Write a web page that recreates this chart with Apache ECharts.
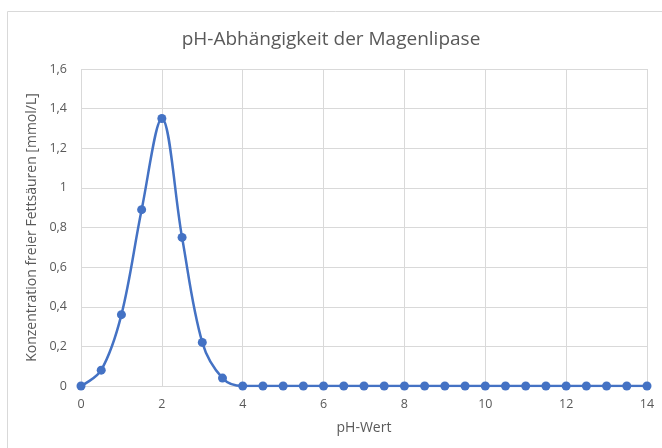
<!DOCTYPE html>
<html>
<head>
<meta charset="utf-8">
<script src="https://cdn.jsdelivr.net/npm/echarts@6/dist/echarts.min.js"></script>
<style>
  html, body { margin: 0; padding: 0; background: #fff; }
  #chart { width: 662px; height: 448px; }
</style>
</head>
<body>
<div id="chart"></div>
<script>
// pH-Werte (x) und gemessene Konzentration (y)
const phValues = [0, 0.5, 1, 1.5, 2, 2.5, 3, 3.5, 4, 4.5, 5, 5.5, 6, 6.5, 7, 7.5, 8, 8.5, 9, 9.5, 10, 10.5, 11, 11.5, 12, 12.5, 13, 13.5, 14];
const concentrations = [0, 0.08, 0.36, 0.89, 1.35, 0.75, 0.22, 0.04, 0, 0, 0, 0, 0, 0, 0, 0, 0, 0, 0, 0, 0, 0, 0, 0, 0, 0, 0, 0, 0];

const textColor = "#595959";
const gridColor = "#d9d9d9";
const font = "Open Sans";

const chart = echarts.init(document.getElementById("chart"));

chart.setOption({
  animation: false,
  title: {
    text: "pH-Abhängigkeit der Magenlipase",
    left: "center",
    top: 25,
    textStyle: { color: textColor, fontSize: 19, fontWeight: "normal", fontFamily: font },
  },
  graphic: [
    {
      type: "rect",
      shape: { x: 7.5, y: 11.5, width: 700, height: 500 },
      style: { fill: "none", stroke: gridColor, lineWidth: 1 },
      silent: true,
    },
  ],
  grid: { left: 81, right: 15, top: 69, bottom: 62 },
  xAxis: {
    type: "value",
    min: 0,
    max: 14,
    interval: 2,
    name: "pH-Wert",
    nameLocation: "middle",
    nameGap: 35,
    nameTextStyle: { color: textColor, fontSize: 14, fontFamily: font },
    axisLine: { show: true, lineStyle: { color: gridColor } },
    axisTick: { show: false },
    axisLabel: { color: textColor, fontSize: 12.5, fontFamily: font, margin: 12 },
    splitLine: { show: true, lineStyle: { color: gridColor } },
  },
  yAxis: {
    type: "value",
    min: 0,
    max: 1.6,
    interval: 0.2,
    name: "Konzentration freier Fettsäuren [mmol/L]",
    nameLocation: "middle",
    nameGap: 38,
    nameTextStyle: { color: textColor, fontSize: 14, fontFamily: font },
    axisLine: { show: false },
    axisTick: { show: false },
    axisLabel: {
      color: textColor,
      fontSize: 12.5,
      fontFamily: font,
      margin: 14,
      formatter: (v) => String(Math.round(v * 10) / 10).replace(".", ","),
    },
    splitLine: { show: true, lineStyle: { color: gridColor } },
  },
  series: [
    {
      type: "line",
      data: phValues.map((x, i) => [x, concentrations[i]]),
      smooth: 0.35,
      symbol: "circle",
      symbolSize: 9,
      itemStyle: { color: "#4472C4" },
      lineStyle: { color: "#4472C4", width: 2.5 },
    },
  ],
});
</script>
</body>
</html>
